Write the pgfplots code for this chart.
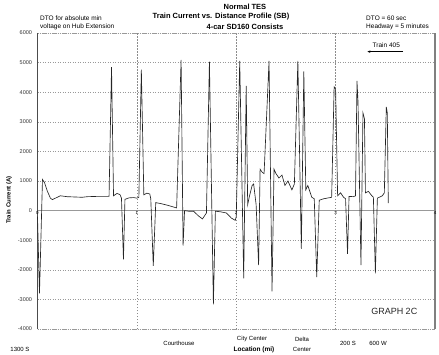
\documentclass[border=0pt]{standalone}
\usepackage{pgfplots}
\pgfplotsset{compat=1.18}
\usepackage{fontspec}
\setmainfont{Liberation Sans}
\usetikzlibrary{arrows.meta}
\pgfplotstableread{
x y
0.000 -200
0.020 -2800
0.050 1050
0.070 950
0.100 650
0.130 420
0.150 370
0.180 420
0.230 500
0.300 470
0.450 450
0.500 470
0.600 480
0.720 480
0.745 4850
0.765 500
0.800 580
0.830 540
0.845 420
0.865 -1650
0.880 380
0.920 430
0.970 440
1.000 420
1.020 450
1.045 4760
1.070 530
1.100 590
1.130 560
1.140 400
1.165 -1870
1.190 270
1.250 230
1.320 170
1.400 90
1.445 5090
1.465 -1180
1.480 0
1.520 -20
1.570 -20
1.620 -180
1.660 -280
1.700 -80
1.730 5030
1.770 -3170
1.790 -20
1.840 -40
1.900 -80
1.950 -250
1.990 -330
2.000 -200
2.035 5060
2.075 -2290
2.100 4210
2.115 200
2.130 450
2.160 850
2.175 900
2.200 200
2.225 -1845
2.240 1400
2.260 1300
2.280 1250
2.330 5060
2.360 -2730
2.380 1400
2.400 1250
2.430 1100
2.460 1200
2.490 850
2.520 1000
2.560 700
2.585 900
2.620 5060
2.655 -1290
2.680 4700
2.700 700
2.720 850
2.760 450
2.785 400
2.810 -2250
2.835 350
2.880 400
2.960 450
2.985 4180
3.000 4100
3.020 500
3.050 600
3.080 450
3.100 400
3.120 -1460
3.135 480
3.180 470
3.200 500
3.215 4380
3.225 3700
3.255 -1845
3.275 3300
3.290 3100
3.300 600
3.330 650
3.360 520
3.380 450
3.400 -2120
3.420 420
3.470 500
3.490 600
3.510 3500
3.520 3300
3.530 250
}\datatable
\begin{document}
\begin{tikzpicture}[x=1pt,y=1pt]
\begin{axis}[
  anchor=south west,
  scale only axis, width=397.5pt, height=296pt,
  xmin=0, xmax=4, ymin=-4000, ymax=6000,
  axis line style={draw=none},
  xtick={1,2,3}, xticklabels={},
  ytick={-4000,-3000,...,6000},
  major tick length=0pt,
  xmajorgrids, ymajorgrids,
  x grid style={black!45, line width=0.4pt, dash pattern=on 1.5pt off 1.5pt},
  y grid style={black!40, line width=0.4pt, dash pattern=on 1pt off 1.5pt},
  yticklabel style={font=\fontsize{5.5}{6}\selectfont, text=black!80, xshift=-2pt,
    /pgf/number format/1000 sep={}, /pgf/number format/assume math mode=true},
  clip=false,
]
\coordinate (SW) at (rel axis cs:0,0);
\draw[black!40, line width=0.5pt] (axis cs:0,0) -- (axis cs:4,0);
\draw[black!40, line width=0.4pt, dash pattern=on 1pt off 1pt] (axis cs:0,6000) -- (axis cs:4,6000);
\draw[black!40, line width=0.4pt, dash pattern=on 1pt off 1pt] (axis cs:0,-4000) -- (axis cs:4,-4000);
\draw[black!70, line width=0.8pt] (axis cs:0,-4000) -- (axis cs:0,6000);
\draw[black!50, line width=1.1pt] (axis cs:4,-4000) -- (axis cs:4,6000);
\addplot[black!85, line width=0.65pt] table[x=x,y=y] {\datatable};
\pgfplotsinvokeforeach{0,1,2,3,4}{
  \node[font=\fontsize{4.5}{5}\selectfont, anchor=north, inner sep=1pt] at (axis cs:#1,0) {#1};
}
\node[font=\fontsize{6.5}{7}\selectfont] at (axis cs:3.51,5580) {Train 405};
\draw[line width=0.6pt, -{Stealth[length=3pt,width=2.5pt]}] (axis cs:3.68,5370) -- (axis cs:3.32,5370);
\node[font=\fontsize{9}{10}\selectfont, text=black!85] at (axis cs:3.59,-3400) {GRAPH 2C};
\end{axis}
\pgfresetboundingbox
\begin{scope}[shift={(SW)}, xshift=-37.5pt, yshift=-25pt]
\path[use as bounding box] (0,0) rectangle (439,354);
% titles
\node[font=\bfseries\fontsize{7.5}{8}\selectfont] at (245,347) {Normal TES};
\node[font=\bfseries\fontsize{7.5}{8}\selectfont] at (221,337) {Train Current vs. Distance Profile (SB)};
\node[font=\bfseries\fontsize{7.5}{8}\selectfont] at (245,327) {4-car SD160 Consists};
\node[font=\fontsize{6.5}{7}\selectfont, anchor=west, inner sep=0pt] at (40,336) {DTO for absolute min};
\node[font=\fontsize{6.5}{7}\selectfont, anchor=west, inner sep=0pt] at (40,327) {voltage on Hub Extension};
\node[font=\fontsize{6.5}{7}\selectfont, anchor=west, inner sep=0pt] at (366,336) {DTO = 60 sec};
\node[font=\fontsize{6.5}{7}\selectfont, anchor=west, inner sep=0pt] at (366,327) {Headway = 5 minutes};
\node[font=\bfseries\fontsize{6}{7}\selectfont, rotate=90] at (9,154) {Train Current (A)};
% location labels
\node[font=\fontsize{6}{7}\selectfont] at (20,5) {1300 S};
\node[font=\fontsize{6}{7}\selectfont] at (179,11) {Courthouse};
\node[font=\fontsize{6}{7}\selectfont] at (252,15) {City Center};
\node[font=\bfseries\fontsize{6.5}{7}\selectfont] at (254,4.5) {Location (mi)};
\node[font=\fontsize{6}{7}\selectfont] at (302,15) {Delta};
\node[font=\fontsize{6}{7}\selectfont] at (302,5) {Center};
\node[font=\fontsize{6}{7}\selectfont] at (348,11) {200 S};
\node[font=\fontsize{6}{7}\selectfont] at (378,11) {600 W};
\end{scope}
\end{tikzpicture}
\end{document}
